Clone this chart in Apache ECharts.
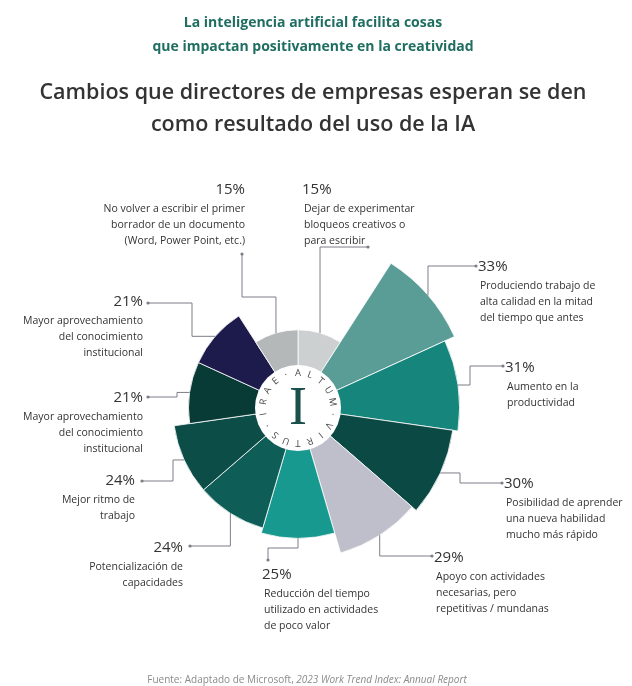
<!DOCTYPE html>
<html>
<head>
<meta charset="utf-8">
<script src="https://cdn.jsdelivr.net/npm/echarts@6/dist/echarts.min.js"></script>
<style>
  html, body { margin: 0; padding: 0; background: #fff; }
  #main { width: 632px; height: 686px; }
</style>
</head>
<body>
<div id="main"></div>
<script>
// data, clockwise from 12 o'clock
const percents = [15, 33, 31, 30, 29, 25, 24, 24, 21, 21, 15];
const labels = [
  'Dejar de experimentar\nbloqueos creativos o\npara escribir',
  'Produciendo trabajo de\nalta calidad en la mitad\ndel tiempo que antes',
  'Aumento en la\nproductividad',
  'Posibilidad de aprender\nuna nueva habilidad\nmucho más rápido',
  'Apoyo con actividades\nnecesarias, pero\nrepetitivas / mundanas',
  'Reducción del tiempo\nutilizado en actividades\nde poco valor',
  'Potencialización de\ncapacidades',
  'Mejor ritmo de\ntrabajo',
  'Mayor aprovechamiento\ndel conocimiento\ninstitucional',
  'Mayor aprovechamiento\ndel conocimiento\ninstitucional',
  'No volver a escribir el primer\nborrador de un documento\n(Word, Power Point, etc.)'
];

const colors = ['#cdd0d0', '#5a9d97', '#16857c', '#0b4a44', '#bebfca', '#17998f',
  '#0e5d57', '#0c4d48', '#083a36', '#1d1a4c', '#b4b8b8'];

// where each label sits and how its leader line bends
const labelPos = [
  { x: 302, y: 190, align: 'left' },
  { x: 478, y: 267, align: 'left' },
  { x: 505, y: 368, align: 'left' },
  { x: 504, y: 484, align: 'left' },
  { x: 434, y: 558, align: 'left' },
  { x: 262, y: 575, align: 'left' },
  { x: 183, y: 548, align: 'right' },
  { x: 135, y: 481, align: 'right' },
  { x: 143, y: 398, align: 'right' },
  { x: 143, y: 302, align: 'right' },
  { x: 245, y: 190, align: 'right' }
];
const leaderPaths = [
  [['v', 247], ['h', 368]],
  [['v', 266], ['h', 476]],
  [['h', 470], ['v', 366], ['h', 503]],
  [['h', 460], ['v', 483], ['h', 502]],
  [['v', 556], ['h', 432]],
  [['v', 548], ['h', 268], ['v', 560]],
  [['v', 546], ['h', 190]],
  [['h', 173], ['v', 481], ['h', 142]],
  [['h', 177], ['v', 397], ['h', 148]],
  [['h', 192], ['v', 303], ['h', 148]],
  [['v', 297], ['h', 242], ['v', 254]]
];

const cx = 298, cy = 408, R = 172;
const maxVal = Math.max(...percents);

const chart = echarts.init(document.getElementById('main'));

const graphics = [];

// white circle with the logo in the middle
graphics.push({
  type: 'circle', shape: { cx: cx, cy: cy, r: 43 },
  style: { fill: '#ffffff' }, z: 10
});
const ring = '·ALTUM·VIRTUS·IRAE';
for (let i = 0; i < ring.length; i++) {
  const a = (i - 1) * 2 * Math.PI / ring.length;
  graphics.push({
    type: 'text',
    x: cx + 35 * Math.sin(a), y: cy - 35 * Math.cos(a),
    rotation: -a,
    style: {
      text: ring[i], fill: '#4a4a4a', font: '9.5px "Open Sans"',
      align: 'center', verticalAlign: 'middle'
    },
    z: 11
  });
}
graphics.push({
  type: 'text', x: cx, y: cy + 2,
  style: {
    text: 'I', fill: '#1a4f4a', font: '54px "Liberation Serif"',
    align: 'center', verticalAlign: 'middle'
  },
  z: 11
});

// leader lines + labels
percents.forEach(function (v, i) {
  const mid = (i + 0.5) * 2 * Math.PI / percents.length;
  const r = R * v / maxVal;
  let px = cx + r * Math.sin(mid), py = cy - r * Math.cos(mid);
  const pts = [[px, py]];
  leaderPaths[i].forEach(function (m) {
    if (m[0] === 'h') px = m[1]; else py = m[1];
    pts.push([px, py]);
  });
  graphics.push({
    type: 'polyline', shape: { points: pts },
    style: { stroke: '#7d7d88', lineWidth: 1, fill: null }, z: 5
  });
  graphics.push({
    type: 'circle', shape: { cx: px, cy: py, r: 1.6 },
    style: { fill: '#7d7d88' }, z: 5
  });
  const p = labelPos[i];
  graphics.push({
    type: 'text', x: p.x, y: p.y,
    style: {
      text: v + '%', fill: '#333', font: '15px "Open Sans"',
      align: p.align, verticalAlign: 'middle'
    }
  });
  graphics.push({
    type: 'text', x: p.x + (p.align === 'left' ? 2 : 0), y: p.y + 11,
    style: {
      text: labels[i], fill: '#333', font: '10.5px "Open Sans"', lineHeight: 16,
      align: p.align, verticalAlign: 'top'
    }
  });
});

chart.setOption({
  animation: false,
  title: [
    {
      text: 'La inteligencia artificial facilita cosas\nque impactan positivamente en la creatividad',
      left: 308, top: 6, textAlign: 'center',
      textStyle: { color: '#1f6e61', fontFamily: 'Open Sans', fontWeight: 'bold', fontSize: 14, lineHeight: 24 }
    },
    {
      text: 'Cambios que directores de empresas esperan se den\ncomo resultado del uso de la IA',
      left: 308, top: 72, textAlign: 'center',
      textStyle: { color: '#333', fontFamily: 'Open Sans', fontWeight: 600, fontSize: 21.5, lineHeight: 32 }
    },
    {
      text: 'Fuente: Adaptado de Microsoft, {i|2023 Work Trend Index: Annual Report}',
      left: 302, top: 670, textAlign: 'center',
      textStyle: {
        color: '#8a8a8a', fontFamily: 'Open Sans', fontWeight: 'normal', fontSize: 10,
        rich: { i: { fontStyle: 'italic', color: '#8a8a8a', fontFamily: 'Open Sans', fontSize: 10 } }
      }
    }
  ],
  series: [{
    type: 'pie',
    roseType: 'area',
    center: [cx, cy],
    radius: [0, R],
    startAngle: 90,
    clockwise: true,
    label: { show: false },
    labelLine: { show: false },
    itemStyle: { borderColor: '#ffffff', borderWidth: 0.8 },
    emphasis: { disabled: true },
    data: percents.map(function (v, i) {
      return { name: labels[i], value: v, itemStyle: { color: colors[i] } };
    })
  }],
  graphic: graphics
});
</script>
</body>
</html>
